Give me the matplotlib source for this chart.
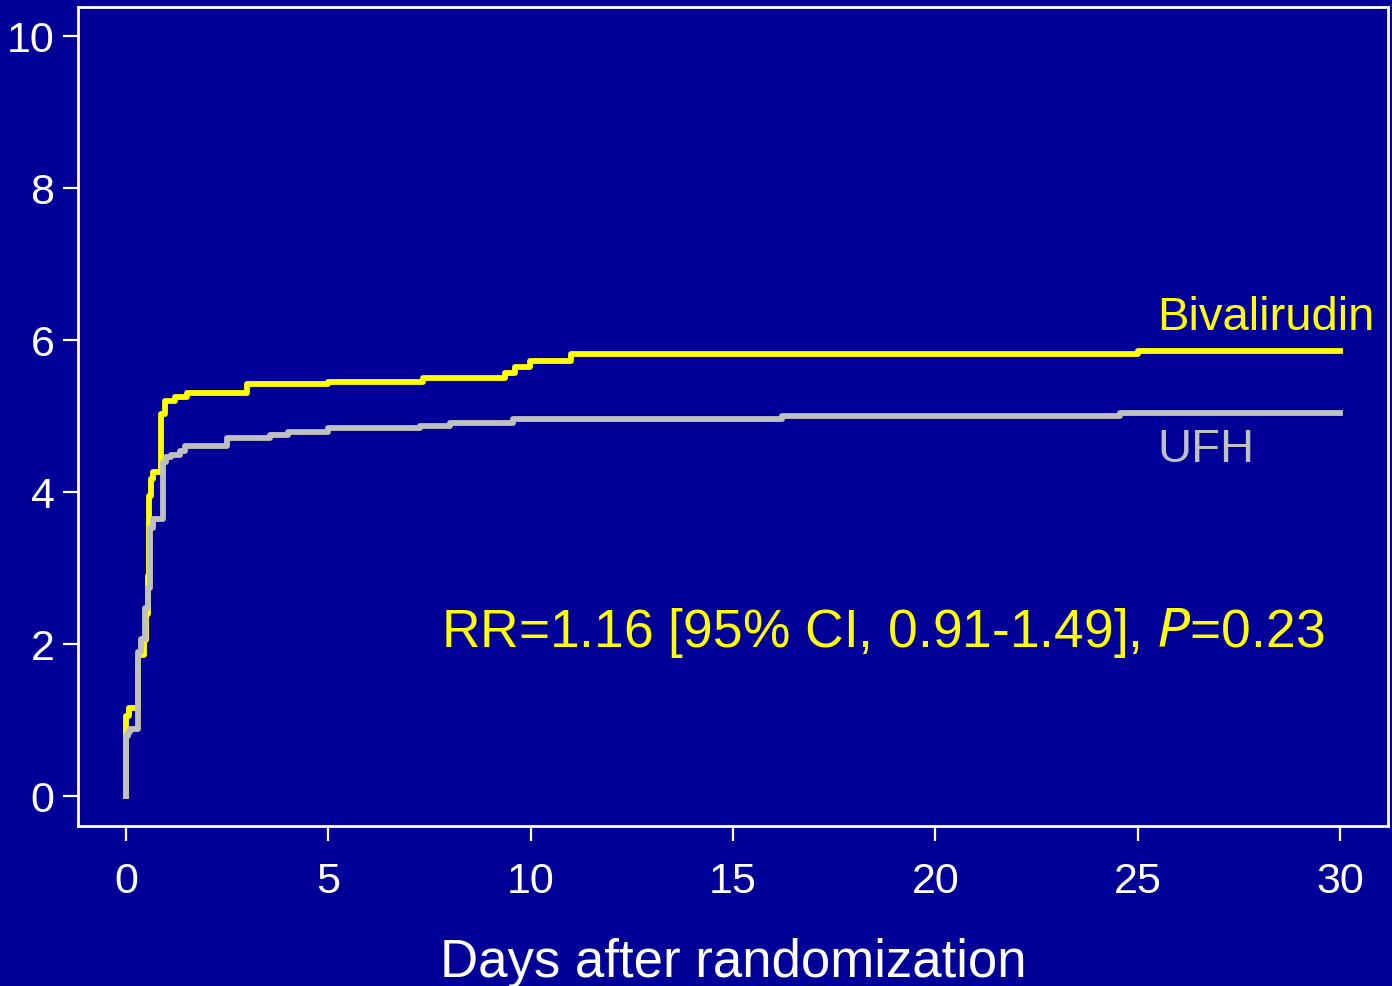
import matplotlib
matplotlib.use("Agg")
import matplotlib.pyplot as plt

# Kaplan-Meier style cumulative event curves (%), step changes only
biv_days = [0, 0.01, 0.08, 0.3, 0.45, 0.5, 0.54, 0.56, 0.57, 0.58, 0.62, 0.67,
            0.87, 0.96, 1.2, 1.5, 3.0, 5.0, 7.35, 9.37, 9.6, 9.98, 11.0, 25.0, 30.0]
biv_pct = [0, 1.05, 1.16, 1.86, 2.05, 2.4, 2.9, 3.3, 3.64, 3.95, 4.17, 4.26,
           5.03, 5.2, 5.25, 5.3, 5.42, 5.45, 5.5, 5.56, 5.64, 5.72, 5.82, 5.86, 5.86]

ufh_days = [0, 0.01, 0.05, 0.1, 0.3, 0.38, 0.47, 0.55, 0.59, 0.67, 0.92, 1.0,
            1.1, 1.33, 1.46, 2.49, 3.56, 4.0, 5.0, 7.26, 8.0, 9.57, 16.2, 24.56, 30.0]
ufh_pct = [0, 0.79, 0.84, 0.88, 1.89, 2.07, 2.47, 2.73, 3.52, 3.65, 4.39, 4.46,
           4.49, 4.54, 4.6, 4.71, 4.75, 4.79, 4.84, 4.87, 4.91, 4.96, 5.0, 5.04, 5.04]

x_ticks = [0, 5, 10, 15, 20, 25, 30]
y_ticks = [0, 2, 4, 6, 8, 10]

bg = '#000099'
yellow = '#ffff00'
grey = '#c0c0c0'

plt.rcParams['font.family'] = ['Liberation Sans', 'DejaVu Sans']

fig = plt.figure(figsize=(13.92, 9.87), dpi=100, facecolor=bg)
ax = fig.add_axes([78/1392, 1-827/987, (1388-78)/1392, (827-8)/987])
ax.set_facecolor(bg)

ax.step(biv_days, biv_pct, where='post', color=yellow, lw=4.2, solid_joinstyle='round')
ax.step(ufh_days, ufh_pct, where='post', color=grey, lw=4.2, solid_joinstyle='round')

ax.set_xlim(-1.186, 31.18)
ax.set_ylim(-0.395, 10.38)
ax.set_xticks(x_ticks)
ax.set_yticks(y_ticks)

for s in ax.spines.values():
    s.set_color('white')
    s.set_linewidth(2)
ax.tick_params(colors='white', labelsize=31, length=11, width=1.6)
ax.tick_params(axis='x', pad=14)
ax.tick_params(axis='y', pad=6)

ax.set_xlabel('Days after randomization', color='white', fontsize=38, labelpad=26)

ax.text(25.48, 6.3, 'Bivalirudin', color=yellow, fontsize=34, va='center', ha='left')
ax.text(25.48, 4.57, 'UFH', color=grey, fontsize=34, va='center', ha='left')
ax.text(7.78, 2.16, r'RR=1.16 [95% CI, 0.91-1.49], $\mathit{P}$=0.23',
        color=yellow, fontsize=38.4, va='center', ha='left')

fig.savefig('out.png', dpi=100, facecolor=bg)
